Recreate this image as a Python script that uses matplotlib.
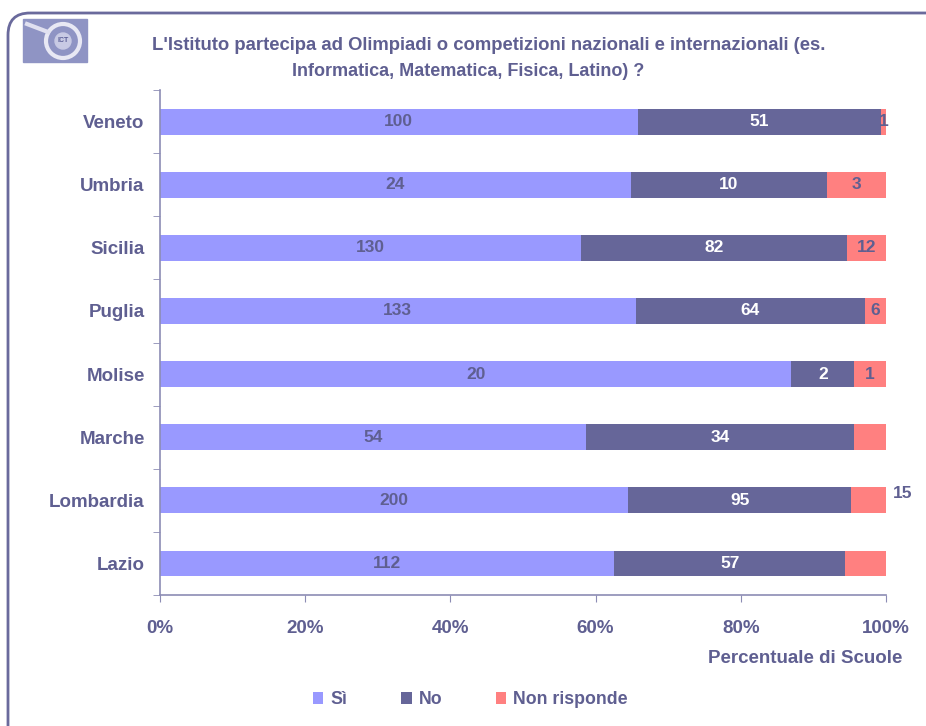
import matplotlib.pyplot as plt
from matplotlib.patches import FancyBboxPatch, Circle, Rectangle
from matplotlib.ticker import PercentFormatter, FixedLocator
from matplotlib import font_manager

regions = ["Lazio", "Lombardia", "Marche", "Molise", "Puglia", "Sicilia", "Umbria", "Veneto"]
si = [112, 200, 54, 20, 133, 130, 24, 100]
no = [57, 95, 34, 2, 64, 82, 10, 51]
non_risponde = [10, 15, 4, 1, 6, 12, 3, 1]
# the reference leaves these "Non risponde" segments unlabelled
unlabelled = ["Lazio", "Marche"]

series_names = ["Sì", "No", "Non risponde"]
colors = ["#9999ff", "#666699", "#ff8080"]
text_col = "#5f5f91"
axis_col = "#8c8cb4"

names = {f.name for f in font_manager.fontManager.ttflist}
fam = [f for f in ["Liberation Sans", "DejaVu Sans"] if f in names]
plt.rcParams["font.family"] = fam
plt.rcParams["font.weight"] = "bold"

fig = plt.figure(figsize=(9.26, 7.26), dpi=100)

# background frame and logo, drawn in pixel coordinates
bg = fig.add_axes([0, 0, 1, 1])
bg.set_xlim(0, 926)
bg.set_ylim(726, 0)
bg.axis("off")
bg.add_patch(FancyBboxPatch((8, 13), 960, 760, boxstyle="round,pad=0,rounding_size=22",
                            fill=False, ec="#6a6a9c", lw=2))
bg.add_patch(Rectangle((23, 19), 64, 43, color="#8f94c4"))
bg.add_patch(Circle((63, 41), 17, fill=False, ec="#e8e8f4", lw=3))
bg.add_patch(Circle((63, 41), 8, color="#c8cae4"))
bg.plot([27, 48], [24, 32], color="#e0e0f0", lw=3)
bg.text(63, 41, "ICT", ha="center", va="center", fontsize=5, color="#5a5e96")

ax = fig.add_axes([0.1728, 0.1804, 0.7840, 0.6956])
pos = range(len(regions))
totals = [a + b + c for a, b, c in zip(si, no, non_risponde)]
left = [0.0] * len(regions)
label_cols = [text_col, "white", text_col]
for vals, name, col, lcol in zip([si, no, non_risponde], series_names, colors, label_cols):
    frac = [v / t for v, t in zip(vals, totals)]
    ax.barh(pos, frac, left=left, height=0.41, color=col, label=name)
    for i, (f, v) in enumerate(zip(frac, vals)):
        if name == "Non risponde" and regions[i] in unlabelled:
            continue
        x = left[i] + f / 2
        if name == "Non risponde" and regions[i] == "Lombardia":
            ax.annotate(str(v), (1, i), xytext=(12, 5), textcoords="offset points",
                        ha="center", va="center", fontsize=12.5, color=text_col,
                        fontweight="bold", annotation_clip=False)
            continue
        ax.text(x, i, str(v), ha="center", va="center", fontsize=12.5, color=lcol,
                fontweight="bold", clip_on=False)
    left = [l + f for l, f in zip(left, frac)]

ax.set_xlim(0, 1)
ax.set_ylim(-0.5, len(regions) - 0.5)
ax.xaxis.set_major_formatter(PercentFormatter(1.0, decimals=0))
ax.set_xticks([0, 0.2, 0.4, 0.6, 0.8, 1.0])
ax.set_yticks(list(pos))
ax.set_yticklabels(regions)
ax.yaxis.set_minor_locator(FixedLocator([i - 0.5 for i in range(len(regions) + 1)]))
ax.tick_params(axis="y", which="major", length=0, pad=11, labelsize=13.5, labelcolor=text_col)
ax.tick_params(axis="y", which="minor", length=5, color=axis_col, direction="out")
ax.tick_params(axis="x", length=5, color=axis_col, pad=13, labelsize=13.5, labelcolor=text_col)
for lab in ax.get_xticklabels() + ax.get_yticklabels():
    lab.set_fontweight("bold")
for side in ["top", "right"]:
    ax.spines[side].set_visible(False)
for side in ["left", "bottom"]:
    ax.spines[side].set_color(axis_col)
    ax.spines[side].set_linewidth(1.2)

fig.text(489 / 926, 1 - 45 / 726,
         "L'Istituto partecipa ad Olimpiadi o competizioni nazionali e internazionali (es.",
         ha="center", va="center", fontsize=13.3, color=text_col, fontweight="bold")
fig.text(468 / 926, 1 - 71 / 726, "Informatica, Matematica, Fisica, Latino) ?",
         ha="center", va="center", fontsize=13.0, color=text_col, fontweight="bold")
fig.text(0.975, 0.093, "Percentuale di Scuole", ha="right", va="center",
         fontsize=13.5, color=text_col, fontweight="bold")

leg = fig.legend(loc="center", bbox_to_anchor=(0.508, 0.036), ncol=3, frameon=False,
                 fontsize=12.8, handlelength=0.6, handleheight=0.6, columnspacing=3.0,
                 handletextpad=0.4)
for t in leg.get_texts():
    t.set_color(text_col)
    t.set_fontweight("bold")

fig.savefig("out.png", dpi=100)
